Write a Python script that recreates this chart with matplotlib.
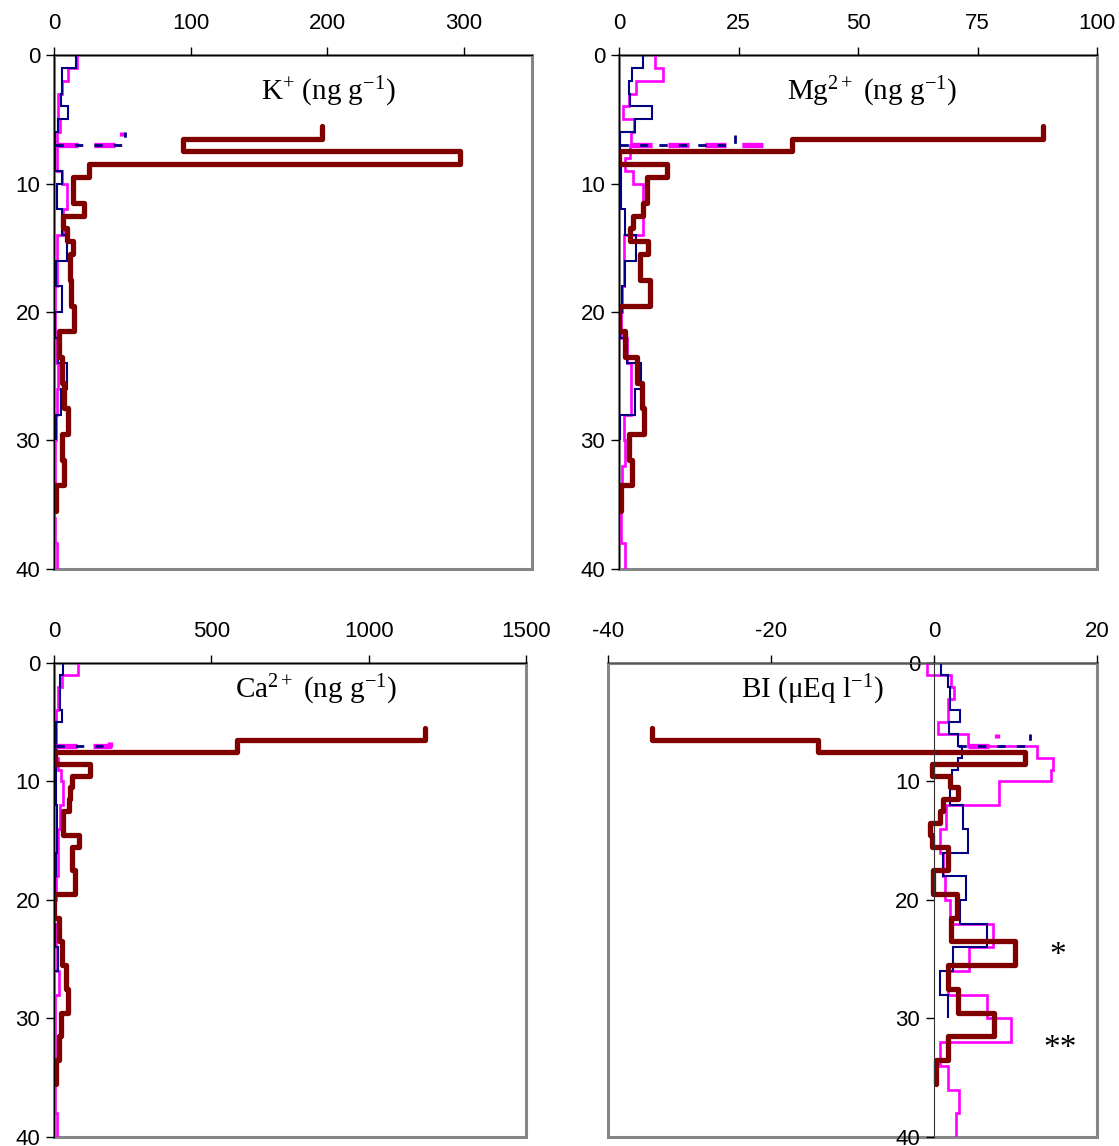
import numpy as np
import matplotlib.pyplot as plt
from matplotlib.patches import Rectangle

plt.rcParams['font.family'] = ['Liberation Sans', 'DejaVu Sans']
plt.rcParams['mathtext.fontset'] = 'custom'
plt.rcParams['mathtext.rm'] = 'Liberation Serif'
plt.rcParams['mathtext.it'] = 'Liberation Serif:italic'
plt.rcParams['axes.unicode_minus'] = False

# depth edges (cm): 1 cm down to 10 cm, then 2 cm
navy_edges = list(range(0, 11)) + list(range(12, 31, 2))
pink_edges = list(range(0, 11)) + list(range(12, 41, 2))
red_edges = [5.5, 6.5, 7.5, 8.5, 9.5, 10.5, 11.5, 12.5, 13.5, 14.5, 15.5,
             17.5, 19.5, 21.5, 23.5, 25.5, 27.5, 29.5, 31.5, 33.5, 35.5]
dash_top, dash_bot = 6.0, 7.0

# K+
k_navy = [16, 6, 6, 5, 10.5, 3, 1, 1, 1, 5.6, 2, 6, 9.3, 1.2, 5.6, 0.5, 3, 9.3, 5, 1.2]
k_pink = [17, 10.5, 5.6, 3.2, 3.2, 4.4, 2, 2, 2, 5.6, 9.3, 6.9, 2, 2, 0.7, 0.7, 1.5, 3, 2,
          1.5, 1, 1, 0, 0.5, 2]
k_red = [196, 94.5, 297, 25.6, 14, 14, 22, 6.6, 9.3, 14, 12, 12.5, 14.7, 3.7, 6, 7.3,
         10.5, 5.6, 7.3, 1.5]
k_dash = [52, 50]

# Mg2+
mg_navy = [5.1, 2.8, 2.1, 2.3, 6.8, 3.3, 0.2, 0.3, 0.5, 0.5, 0.5, 1.3, 3.6, 1.3, 0.6, 0.2,
           1.6, 4.5, 3.3, 0.2]
mg_pink = [7.5, 9.3, 3.6, 2.0, 0.9, 3.1, 2.5, 2.3, 1.3, 3.0, 5.1, 5.1, 1.0, 1.0, 0.6, 0.4,
           1.6, 2.6, 2.4, 1.0, 1.2, 0.6, 0.4, 0.4, 1.3]
mg_red = [88.7, 36.2, 0, 10, 5.8, 5.8, 5, 3, 2.3, 6, 4.4, 6.5, 0, 1.3, 3.7, 4.8, 5.2, 2.1,
          2.7, 0.4]
mg_dash = [24.3, 30.2]

# Ca2+
ca_navy = [30, 20, 20, 20, 25, 5, 5, 5, 5, 5, 5, 8, 10, 6, 3, 0, 3, 14, 0, 1]
ca_pink = [75, 24, 14, 14, 6, 6, 6, 6, 14, 21, 30, 19, 14, 14, 5, 0, 6, 10, 17, 3, 3, 3,
           3, 3, 8]
ca_red = [1179, 581, 2, 114, 56, 50, 48, 30, 30, 80, 58, 65, 1, 17, 24, 38, 45, 21, 17, 6]
ca_dash = [152, 178]

# BI
bi_navy = [0.9, 1.7, 2.0, 2.0, 3.2, 1.8, 2.9, 3.4, 3.0, 2.2, 2.0, 3.6, 4.2, 1.1, 3.9, 3.2,
           6.5, 2.3, 0.7, 1.7]
bi_pink = [-0.8, 2.1, 2.5, 1.7, 1.7, 0.5, 4.2, 12.6, 14.6, 14.3, 8.0, 1.5, 0.7, 1.1, 1.3,
           2.0, 7.2, 4.3, 1.7, 6.5, 9.5, 0.8, 1.7, 3.1, 2.7]
bi_red = [-34.6, -14.2, 11.2, -0.2, 2.0, 2.9, 1.1, 0.7, -0.5, -0.2, 1.7, -0.1, 2.8, 2.1,
          9.9, 1.7, 2.9, 7.4, 1.7, 0.2]
bi_dash = [11.8, 7.7]

NAVY = '#000080'
PINK = '#ff00ff'
RED = '#800000'
GREY = '#868686'

fig = plt.figure(figsize=(11.19, 11.46), dpi=100)


def panel(rect, navy, pink, red, dash, xlim, xticks, label, lpos, zero_axis=False):
    ax = fig.add_axes(rect)
    ax.stairs(pink, pink_edges, orientation='horizontal', baseline=None, color=PINK, lw=1.9)
    ax.stairs(navy, navy_edges, orientation='horizontal', baseline=None, color=NAVY, lw=1.5)
    # the dashed 6-7 cm samples
    ax.plot([pink[6], dash[1], dash[1]], [dash_bot, dash_bot, dash_top], color=PINK,
            lw=3.8, dashes=(4, 3))
    ax.plot([navy[6], dash[0], dash[0]], [dash_bot, dash_bot, dash_top], color=NAVY,
            lw=2.0, dashes=(3, 4))
    ax.stairs(red, red_edges, orientation='horizontal', baseline=None, color=RED, lw=3.8,
              joinstyle='round', capstyle='round')
    ax.set_xlim(*xlim)
    ax.set_ylim(40, 0)
    ax.set_xticks(xticks)
    ax.set_yticks([0, 10, 20, 30, 40])
    ax.xaxis.tick_top()
    ax.tick_params(axis='x', direction='out', length=6, width=1, labelsize=16, pad=9)
    ax.tick_params(axis='y', direction='out', length=6, width=1, labelsize=16, pad=4)
    for s in ['bottom', 'right']:
        ax.spines[s].set_visible(False)
    ax.add_patch(Rectangle((0, 0), 1, 1, transform=ax.transAxes, fill=False,
                           edgecolor=GREY, lw=2.2, zorder=0.5, clip_on=False))
    ax.spines['top'].set_color('black')
    ax.spines['left'].set_color('black')
    if zero_axis:
        ax.spines['left'].set_position(('data', 0))
        ax.spines['left'].set_color('#333333')
        ax.spines['top'].set_color('#555555')
    ax.text(lpos[0], lpos[1], label, transform=ax.transAxes, ha='center', va='center',
            fontsize=21, family='Liberation Serif')
    return ax


panel([0.0483, 0.5035, 0.4272, 0.4485], k_navy, k_pink, k_red, k_dash, (0, 350),
      [0, 100, 200, 300], r'K$^{+}$ (ng g$^{\mathrm{-1}}$)', (0.573, 0.928))
panel([0.5532, 0.5035, 0.4272, 0.4485], mg_navy, mg_pink, mg_red, mg_dash, (0, 100),
      [0, 25, 50, 75, 100], r'Mg$^{2+}$ (ng g$^{\mathrm{-1}}$)', (0.529, 0.928))
panel([0.0483, 0.0079, 0.4218, 0.4136], ca_navy, ca_pink, ca_red, ca_dash, (0, 1500),
      [0, 500, 1000, 1500], r'Ca$^{2+}$ (ng g$^{\mathrm{-1}}$)', (0.555, 0.943))
ax4 = panel([0.5433, 0.0079, 0.4370, 0.4136], bi_navy, bi_pink, bi_red, bi_dash, (-40, 20),
            [-40, -20, 0, 20], r'BI ($\mathrm{\mu}$Eq l$^{\mathrm{-1}}$)', (0.417, 0.943),
            zero_axis=True)
ax4.text(0.920, 0.383, '*', transform=ax4.transAxes, ha='center', va='center',
         fontsize=24, family='Liberation Serif')
ax4.text(0.924, 0.187, '**', transform=ax4.transAxes, ha='center', va='center',
         fontsize=24, family='Liberation Serif')

fig.savefig('out.png', dpi=100)
